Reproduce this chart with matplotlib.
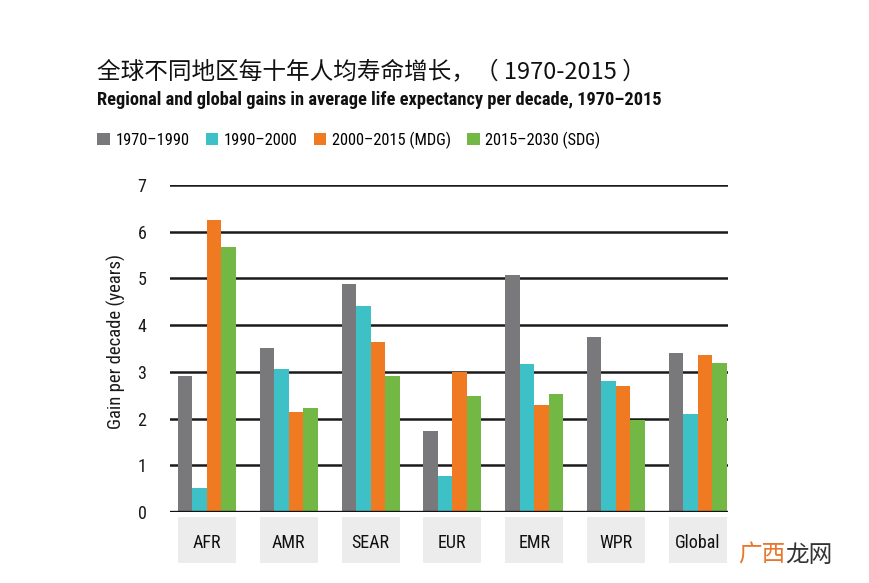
import numpy as np
import matplotlib.pyplot as plt
from matplotlib.patches import Rectangle, Patch
import matplotlib.transforms as mtransforms
from matplotlib import font_manager

# data
regions = ["AFR", "AMR", "SEAR", "EUR", "EMR", "WPR", "Global"]
periods = ["1970–1990", "1990–2000", "2000–2015 (MDG)", "2015–2030 (SDG)"]
gain_1970_1990 = [2.91, 3.50, 4.87, 1.74, 5.07, 3.75, 3.40]
gain_1990_2000 = [0.51, 3.06, 4.42, 0.78, 3.16, 2.81, 2.10]
gain_2000_2015 = [6.24, 2.14, 3.64, 3.00, 2.29, 2.70, 3.36]
gain_2015_2030 = [5.68, 2.23, 2.91, 2.49, 2.52, 1.97, 3.18]
yticks = [0, 1, 2, 3, 4, 5, 6, 7]

colors = ["#79797b", "#3ec0c7", "#f07a22", "#73b845"]
cjk = ["Noto Sans CJK SC", "DejaVu Sans"]

# look for a condensed face, else fall back to Liberation Sans
names = {f.name for f in font_manager.fontManager.ttflist}
narrow_name = "Liberation Sans"
for cand in ["Liberation Sans Narrow", "DejaVu Sans Condensed", "Roboto Condensed",
             "Open Sans Condensed", "Noto Sans Condensed"]:
    if cand in names:
        narrow_name = cand
        break
narrow = [narrow_name, "DejaVu Sans"]

fig = plt.figure(figsize=(8.7, 5.83), dpi=100)
ax = fig.add_axes([0.1954, 0.1218, 0.6414, 0.5609])

series = [gain_1970_1990, gain_1990_2000, gain_2000_2015, gain_2015_2030]
x = np.arange(len(regions))
w = 0.177
for i, vals in enumerate(series):
    ax.bar(x + (i - 1.5) * w, vals, width=w, color=colors[i], zorder=3, label=periods[i])

# horizontal rules
for yv in yticks[1:]:
    ax.axhline(yv, color="#1a1a1a", lw=1.8, zorder=1)
ax.axhline(0, color="#111111", lw=2.4, zorder=4)

ax.set_xlim(-0.452, 6.37)
ax.set_ylim(0, 7)
ax.set_yticks(yticks)
ax.set_yticklabels([str(t) for t in yticks], fontsize=13, family=narrow, color="#1a1a1a")
ax.tick_params(axis="y", length=0, pad=17)
ax.set_xticks([])
for s in ax.spines.values():
    s.set_visible(False)
fig.text(0.1333, 0.415, "Gain per decade (years)", rotation=90, ha="center", va="center",
         fontsize=13.5, family=narrow, color="#1a1a1a")

# grey label boxes under each group
trans = mtransforms.blended_transform_factory(ax.transData, ax.transAxes)
for xi, name in zip(x, regions):
    ax.add_patch(Rectangle((xi - 2 * w, -0.156), 4 * w, 0.141, transform=trans,
                           facecolor="#ececec", edgecolor="none", clip_on=False))
    ax.text(xi, -0.094, name, transform=trans, ha="center", va="center",
            fontsize=13, family=narrow, color="#111111")

# titles
fig.text(0.111, 0.877, "全球不同地区每十年人均寿命增长，（ 1970-2015 ）", fontsize=17,
         family=cjk, color="#111111", va="center")
fig.text(0.111, 0.8285, "Regional and global gains in average life expectancy per decade, 1970–2015",
         fontsize=13.2, family=narrow, weight="bold", color="#111111", va="center")

handles = [Patch(facecolor=c, edgecolor="none") for c in colors]
fig.legend(handles, periods, loc="center left", bbox_to_anchor=(0.095, 0.76), ncol=4,
           frameon=False, handlelength=0.75, handleheight=0.75, handletextpad=0.35,
           columnspacing=1.0, prop={"family": narrow, "size": 11.8})

# watermark
fig.text(0.848, 0.048, "广西", fontsize=17, family=cjk, color="#e8772e", va="center")
fig.text(0.903, 0.048, "龙网", fontsize=17, family=cjk, color="#333333", va="center")

fig.savefig("out.png", dpi=100, facecolor="white")
